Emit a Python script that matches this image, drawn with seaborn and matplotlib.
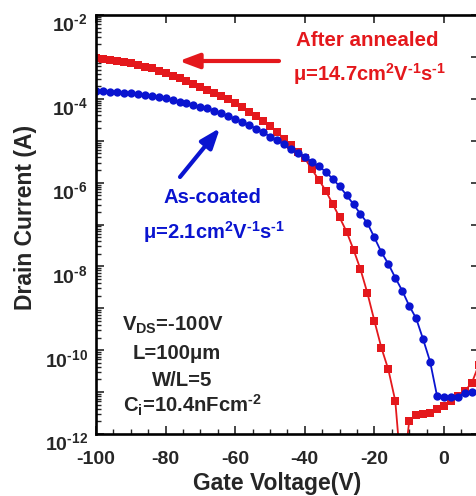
import numpy as np
import matplotlib
matplotlib.use("Agg")
import matplotlib.pyplot as plt
import matplotlib.ticker as mticker
import matplotlib.transforms as mtransforms
import seaborn as sns

# gate sweep (V)
gate_v = [-100, -98, -96, -94, -92, -90, -88, -86, -84, -82,
          -80, -78, -76, -74, -72, -70, -68, -66, -64, -62,
          -60, -58, -56, -54, -52, -50, -48, -46, -44, -42,
          -40, -38, -36, -34, -32, -30, -28, -26, -24, -22,
          -20, -18, -16, -14, -12, -10, -8, -6, -4, -2,
          0, 2, 4, 6, 8, 10]

# log10 of drain current (A)
log_id_annealed = [-3.02, -3.04, -3.07, -3.09, -3.12, -3.15, -3.19, -3.23, -3.27, -3.33,
                   -3.39, -3.45, -3.51, -3.57, -3.64, -3.71, -3.79, -3.86, -3.93, -4.01,
                   -4.11, -4.20, -4.31, -4.41, -4.52, -4.65, -4.79, -4.95, -5.11, -5.27,
                   -5.42, -5.68, -5.93, -6.19, -6.51, -6.83, -7.17, -7.60, -8.07, -8.64,
                   -9.30, -9.94, -10.46, -11.21, -13.2, -11.69, -11.55, -11.53, -11.51, -11.40,
                   -11.32, -11.21, -11.09, -10.97, -10.78, -10.35]

log_id_coated = [-3.81, -3.82, -3.83, -3.84, -3.855, -3.87, -3.885, -3.90, -3.93, -3.96,
                 -3.99, -4.03, -4.07, -4.11, -4.14, -4.19, -4.23, -4.28, -4.35, -4.41,
                 -4.48, -4.55, -4.63, -4.71, -4.80, -4.90, -4.99, -5.09, -5.20, -5.29,
                 -5.39, -5.50, -5.61, -5.74, -5.91, -6.09, -6.30, -6.52, -6.75, -6.97,
                 -7.31, -7.66, -7.94, -8.27, -8.58, -8.94, -9.24, -9.74, -10.27, -11.09,
                 -11.12, -11.12, -11.11, -11.01, -11.00, -10.98]

x_ticks = [-100, -80, -60, -40, -20, 0]

RED = "#e4181c"
BLUE = "#0a14d0"
HY = "\u2010"  # short hyphen for superscripts

sns.set_style("ticks")
plt.rcParams["font.family"] = ["Liberation Sans", "DejaVu Sans"]
plt.rcParams["font.weight"] = "bold"
plt.rcParams["axes.unicode_minus"] = False
plt.rcParams["mathtext.fontset"] = "custom"
plt.rcParams["mathtext.rm"] = "Liberation Sans:bold"
plt.rcParams["mathtext.bf"] = "Liberation Sans:bold"
plt.rcParams["mathtext.it"] = "Liberation Sans:bold"
plt.rcParams["mathtext.default"] = "bf"

W, H = 476, 496
fig = plt.figure(figsize=(W / 100, H / 100), dpi=100)
ax = fig.add_axes([96 / W, 1 - 434 / H, (478.8 - 96) / W, (434 - 15) / H])

id_annealed = 10 ** np.array(log_id_annealed)
id_coated = 10 ** np.array(log_id_coated)

sns.lineplot(x=gate_v, y=id_annealed, ax=ax, color=RED, marker="s", markersize=5.5,
             markeredgewidth=0, lw=1.3, sort=False)
sns.lineplot(x=gate_v, y=id_coated, ax=ax, color=BLUE, marker="o", markersize=6,
             markeredgewidth=0, lw=1.3, sort=False)

ax.set_yscale("log")
ax.set_xlim(-100, 10)
ax.set_ylim(1e-12, 1e-2)

ax.xaxis.set_major_locator(mticker.FixedLocator(x_ticks))
ax.xaxis.set_minor_locator(mticker.MultipleLocator(5))
ax.yaxis.set_major_locator(mticker.LogLocator(base=10, numticks=20))
ax.yaxis.set_minor_locator(mticker.LogLocator(base=10, subs=np.arange(2, 10), numticks=20))
ax.yaxis.set_minor_formatter(mticker.NullFormatter())


def ylab(v, pos):
    e = int(round(np.log10(v)))
    return "$10^{%s%d}$" % (HY, -e) if e % 2 == 0 else ""


ax.yaxis.set_major_formatter(mticker.FuncFormatter(ylab))

for s in ax.spines.values():
    s.set_linewidth(1.9)
    s.set_color("black")
ax.tick_params(which="major", direction="in", length=6, width=1.2, top=True, right=True,
               labelsize=14)
ax.tick_params(which="minor", direction="in", length=3.5, width=1.0, top=False, right=False,
               left=True, bottom=True)
ax.tick_params(axis="x", which="major", pad=12)
ax.tick_params(axis="y", which="major", pad=6)

# drop the y tick labels a little, as in the original
shift = mtransforms.ScaledTranslation(0, -7.5 / 100, fig.dpi_scale_trans)
for t in ax.yaxis.get_major_ticks():
    t.label1.set_transform(t.label1.get_transform() + shift)

ax.set_xlabel("Gate Voltage(V)", fontsize=16.5, fontweight="bold")
ax.set_ylabel("Drain Current (A)", fontsize=16.5, fontweight="bold")
ax.xaxis.set_label_coords((277 - 96) / (478.8 - 96), -(472 - 434) / (434 - 15), transform=ax.transAxes)
ax.yaxis.set_label_coords(-(96 - 37) / (478.8 - 96), (434 - 217) / (434 - 15), transform=ax.transAxes)


def px(x, y):
    return x / W, 1 - y / H


sup = lambda s: "$^{%s}$" % s.replace("-", HY)

# annotations
fig.text(*px(296, 46), "After annealed", color=RED, fontsize=14.8, fontweight="bold")
fig.text(*px(293, 81), "μ=14.7cm" + sup("2") + "V" + sup("-1") + "s" + sup("-1"),
         color=RED, fontsize=14.5, fontweight="bold")
fig.text(*px(163, 203), "As-coated", color=BLUE, fontsize=14.6, fontweight="bold")
fig.text(*px(143, 239), "μ=2.1cm" + sup("2") + "V" + sup("-1") + "s" + sup("-1"),
         color=BLUE, fontsize=14.5, fontweight="bold")

fig.text(*px(122, 331), r"V$_{DS}$=-100V", fontsize=14.6, fontweight="bold")
fig.text(*px(133, 359), "L=100μm", fontsize=14.6, fontweight="bold")
fig.text(*px(152, 386), "W/L=5", fontsize=14.6, fontweight="bold")
fig.text(*px(123, 413), r"C$_{i}$=10.4nFcm" + sup("-2"), fontsize=14.6, fontweight="bold")

ax.annotate("", xy=px(179, 61), xycoords="figure fraction", xytext=px(279, 61),
            textcoords="figure fraction",
            arrowprops=dict(arrowstyle="-|>,head_length=0.8,head_width=0.3", lw=3,
                            color=RED, mutation_scale=15, shrinkA=0, shrinkB=0))
ax.annotate("", xy=px(220, 128), xycoords="figure fraction", xytext=px(180, 177),
            textcoords="figure fraction",
            arrowprops=dict(arrowstyle="-|>,head_length=0.8,head_width=0.3", lw=3,
                            color=BLUE, mutation_scale=15, shrinkA=0, shrinkB=0))

fig.savefig("out.png", dpi=100)
